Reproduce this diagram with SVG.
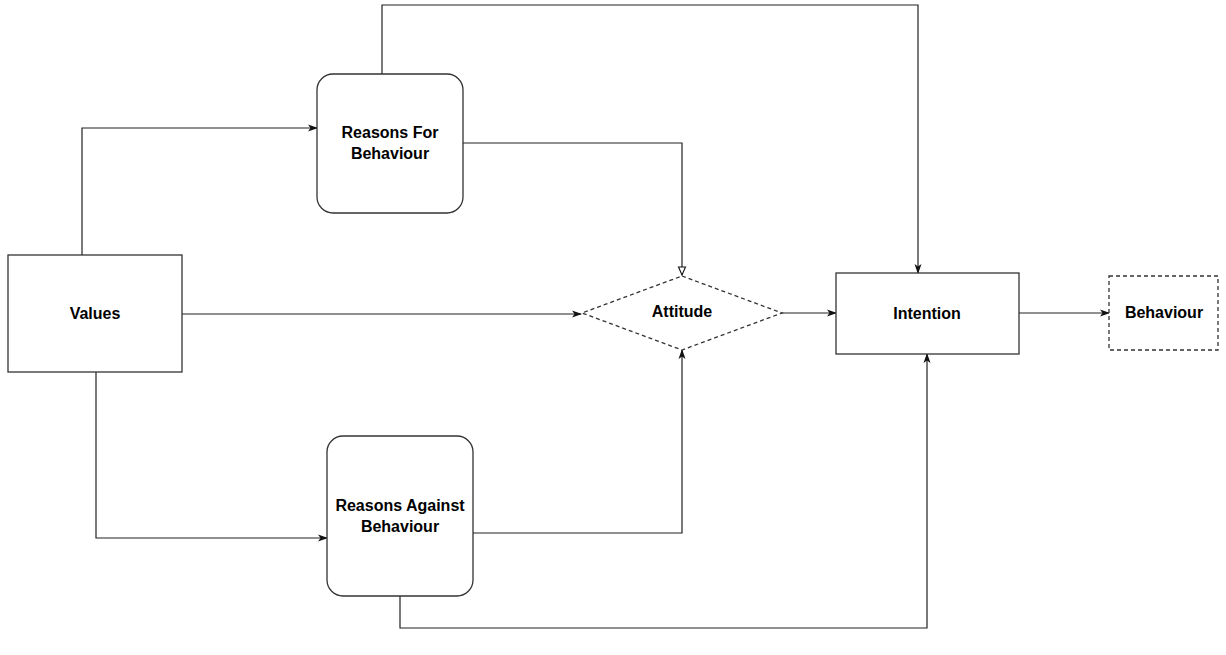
<svg xmlns="http://www.w3.org/2000/svg" width="1226" height="655" viewBox="0 0 1226 655">
<style>
.node{fill:#fff;stroke:#333;stroke-width:1.3}
.dash{stroke-dasharray:4 3}
.lbl{font-family:"Liberation Sans",Arial,sans-serif;font-weight:bold;font-size:16px;fill:#000;text-anchor:middle}
.edge{fill:none;stroke:#222;stroke-width:1.2}
</style>
<defs>
<marker id="arr" viewBox="0 0 10 10" refX="9" refY="5" markerWidth="10" markerHeight="10" markerUnits="userSpaceOnUse" orient="auto">
<path d="M0,1.5 L10,5 L0,8.5 L2.5,5 Z" fill="#111"/>
</marker>
<marker id="open" viewBox="0 0 10 10" refX="9" refY="5" markerWidth="10" markerHeight="10" markerUnits="userSpaceOnUse" orient="auto">
<path d="M1,1.5 L9,5 L1,8.5 Z" fill="#fff" stroke="#111" stroke-width="1.1"/>
</marker>
</defs>
<rect width="1226" height="655" fill="#fff"/>
<g id="connectors">
<polyline class="edge" points="82,255 82,128 317,128" marker-end="url(#arr)"/>
<polyline class="edge" points="96,372 96,538 327,538" marker-end="url(#arr)"/>
<polyline class="edge" points="182,314 581,314" marker-end="url(#arr)"/>
<polyline class="edge" points="463,143 682,143 682,275" marker-end="url(#open)"/>
<polyline class="edge" points="473,533 682,533 682,350" marker-end="url(#arr)"/>
<polyline class="edge" points="382,74 382,5 918,5 918,273" marker-end="url(#arr)"/>
<polyline class="edge" points="400,596 400,628 927,628 927,354" marker-end="url(#arr)"/>
<polyline class="edge" points="782,313 836,313" marker-end="url(#arr)"/>
<polyline class="edge" points="1019,313 1109,313" marker-end="url(#arr)"/>
</g>
<g id="values">
<rect class="node" x="8" y="255" width="174" height="117"/>
<text class="lbl" x="95" y="319">Values</text>
</g>
<g id="reasons-for">
<rect class="node" x="317" y="74" width="146" height="139" rx="16" ry="16"/>
<text class="lbl" x="390" y="138">Reasons For</text>
<text class="lbl" x="390" y="159">Behaviour</text>
</g>
<g id="reasons-against">
<rect class="node" x="327" y="436" width="146" height="160" rx="16" ry="16"/>
<text class="lbl" x="400" y="511">Reasons Against</text>
<text class="lbl" x="400" y="532">Behaviour</text>
</g>
<g id="attitude">
<polygon class="node dash" points="682,276 782,313 682,350 582,313"/>
<text class="lbl" x="682" y="317">Attitude</text>
</g>
<g id="intention">
<rect class="node" x="836" y="273" width="183" height="81"/>
<text class="lbl" x="927" y="319">Intention</text>
</g>
<g id="behaviour">
<rect class="node dash" x="1109" y="276" width="109" height="74"/>
<text class="lbl" x="1164" y="318">Behaviour</text>
</g>
</svg>
